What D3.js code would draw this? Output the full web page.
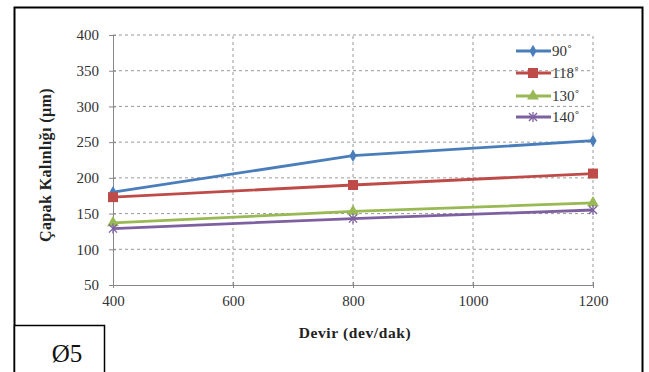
<!DOCTYPE html>
<html><head><meta charset="utf-8">
<script src="https://cdn.jsdelivr.net/npm/d3@7"></script>
<style>body{margin:0;background:#fff}svg{display:block}
svg text{font-family:"Times New Roman","Liberation Serif",serif !important}</style>
</head><body>
<script>
const categories = [400, 800, 1200];
const seriesNames = ["90˚", "118˚", "130˚", "140˚"];
const s90 = [180, 231, 252];
const s118 = [173, 190, 206];
const s130 = [137, 153, 165];
const s140 = [129, 143, 155];
const xTicks = [400, 600, 800, 1000, 1200];
const yTicks = [50, 100, 150, 200, 250, 300, 350, 400];
const colors = ["#4A7EBB", "#BE4B48", "#98B954", "#7D60A0"];
const markers = ["diamond", "square", "triangle", "star"];
const allSeries = [s90, s118, s130, s140];

const W = 649, H = 372;
const font = "Times New Roman, Liberation Serif, serif";
const svg = d3.select("body").append("svg").attr("width", W).attr("height", H)
  .attr("font-family", font);
svg.append("rect").attr("x",0).attr("y",0).attr("width",W).attr("height",H).attr("fill","#fff");

// outer frame
svg.append("rect").attr("x",14.5).attr("y",7.5).attr("width",628).attr("height",370)
  .attr("fill","none").attr("stroke","#000").attr("stroke-width",2);

const x = d3.scaleLinear().domain([400,1200]).range([113,593]);
const y = d3.scaleLinear().domain([50,400]).range([285,35]);

// grid
const g = svg.append("g");
g.selectAll(".hg").data(yTicks.slice(1)).join("line")
  .attr("x1",x(400)).attr("x2",x(1200)).attr("y1",d=>y(d)).attr("y2",d=>y(d))
  .attr("stroke","#999").attr("stroke-dasharray","3,3").attr("stroke-width",1);
g.selectAll(".vg").data(xTicks.slice(1)).join("line")
  .attr("x1",d=>x(d)).attr("x2",d=>x(d)).attr("y1",y(50)).attr("y2",y(400))
  .attr("stroke","#999").attr("stroke-dasharray","3,3").attr("stroke-width",1);

// axes
const yAxis = d3.axisLeft(y).tickValues(yTicks).tickFormat(d3.format("d")).tickSize(4).tickSizeOuter(0);
const ya = svg.append("g").attr("transform",`translate(${x(400)},0)`).call(yAxis);
ya.attr("font-family",font).attr("font-size",15);
ya.select(".domain").attr("stroke","#888");
ya.selectAll(".tick line").attr("stroke","#888").attr("x2",3).attr("x1",-4);
ya.selectAll(".tick text").attr("x",-14).attr("font-family",font).attr("font-size",15).attr("fill","#333");

const xAxis = d3.axisBottom(x).tickValues(xTicks).tickFormat(d3.format("d")).tickSize(4).tickSizeOuter(0);
const xa = svg.append("g").attr("transform",`translate(0,${y(50)})`).call(xAxis);
xa.attr("font-family",font).attr("font-size",15);
xa.select(".domain").attr("stroke","#888");
xa.selectAll(".tick line").attr("stroke","#888").attr("y1",-3).attr("y2",3);
xa.selectAll(".tick text").attr("y",10).attr("font-family",font).attr("font-size",15).attr("fill","#333");

// titles
svg.append("text").attr("x",355).attr("y",338).attr("text-anchor","middle")
  .attr("font-family",font).attr("font-weight","bold").attr("font-size",15.5)
  .attr("letter-spacing",0.6).attr("fill","#222")
  .text("Devir (dev/dak)");
svg.append("text").attr("transform","translate(51,165) rotate(-90)").attr("text-anchor","middle")
  .attr("font-family",font).attr("font-weight","bold").attr("font-size",16)
  .attr("letter-spacing",0.4).attr("fill","#222")
  .text("Çapak  Kalınlığı  (µm)");

function drawMarker(sel, type, color, cx, cy) {
  if (type === "diamond") {
    sel.append("path").attr("d",d3.symbol(d3.symbolDiamond,45)()).attr("transform",`translate(${cx},${cy})`).attr("fill",color);
  } else if (type === "square") {
    sel.append("path").attr("d",d3.symbol(d3.symbolSquare,100)()).attr("transform",`translate(${cx},${cy})`).attr("fill",color);
  } else if (type === "triangle") {
    sel.append("path").attr("d",d3.symbol(d3.symbolTriangle,60)()).attr("transform",`translate(${cx},${cy})`).attr("fill",color);
  } else {
    sel.append("path").attr("d",d3.symbol(d3.symbolX,45)()).attr("transform",`translate(${cx},${cy})`).attr("fill","none").attr("stroke",color).attr("stroke-width",1.3);
    sel.append("line").attr("x1",cx).attr("x2",cx).attr("y1",cy-5).attr("y2",cy+5).attr("stroke",color).attr("stroke-width",1.3);
  }
}

const line = d3.line().x((d,i)=>x(categories[i])).y(d=>y(d));
allSeries.forEach((s,k)=>{
  const gs = svg.append("g");
  gs.append("path").datum(s).attr("d",line).attr("fill","none").attr("stroke",colors[k]).attr("stroke-width",2.8);
  s.forEach((v,i)=>drawMarker(gs, markers[k], colors[k], x(categories[i]), y(v)));
});

// legend
const legY = [51, 73, 96, 117];
seriesNames.forEach((n,k)=>{
  const gl = svg.append("g");
  gl.append("line").attr("x1",516).attr("x2",551).attr("y1",legY[k]).attr("y2",legY[k]).attr("stroke",colors[k]).attr("stroke-width",2.8);
  drawMarker(gl, markers[k], colors[k], 533, legY[k]);
  gl.append("text").attr("x",552).attr("y",legY[k]+5).attr("font-family",font).attr("font-size",15).attr("fill","#333").text(n);
});

// Ø5 box
svg.append("rect").attr("x",14.5).attr("y",325.5).attr("width",90).attr("height",50)
  .attr("fill","#fff").attr("stroke","#000").attr("stroke-width",1.5);
svg.append("text").attr("x",67).attr("y",362).attr("text-anchor","middle")
  .attr("font-family",font).attr("font-size",25).attr("fill","#111").text("Ø5");
</script>
</body></html>
